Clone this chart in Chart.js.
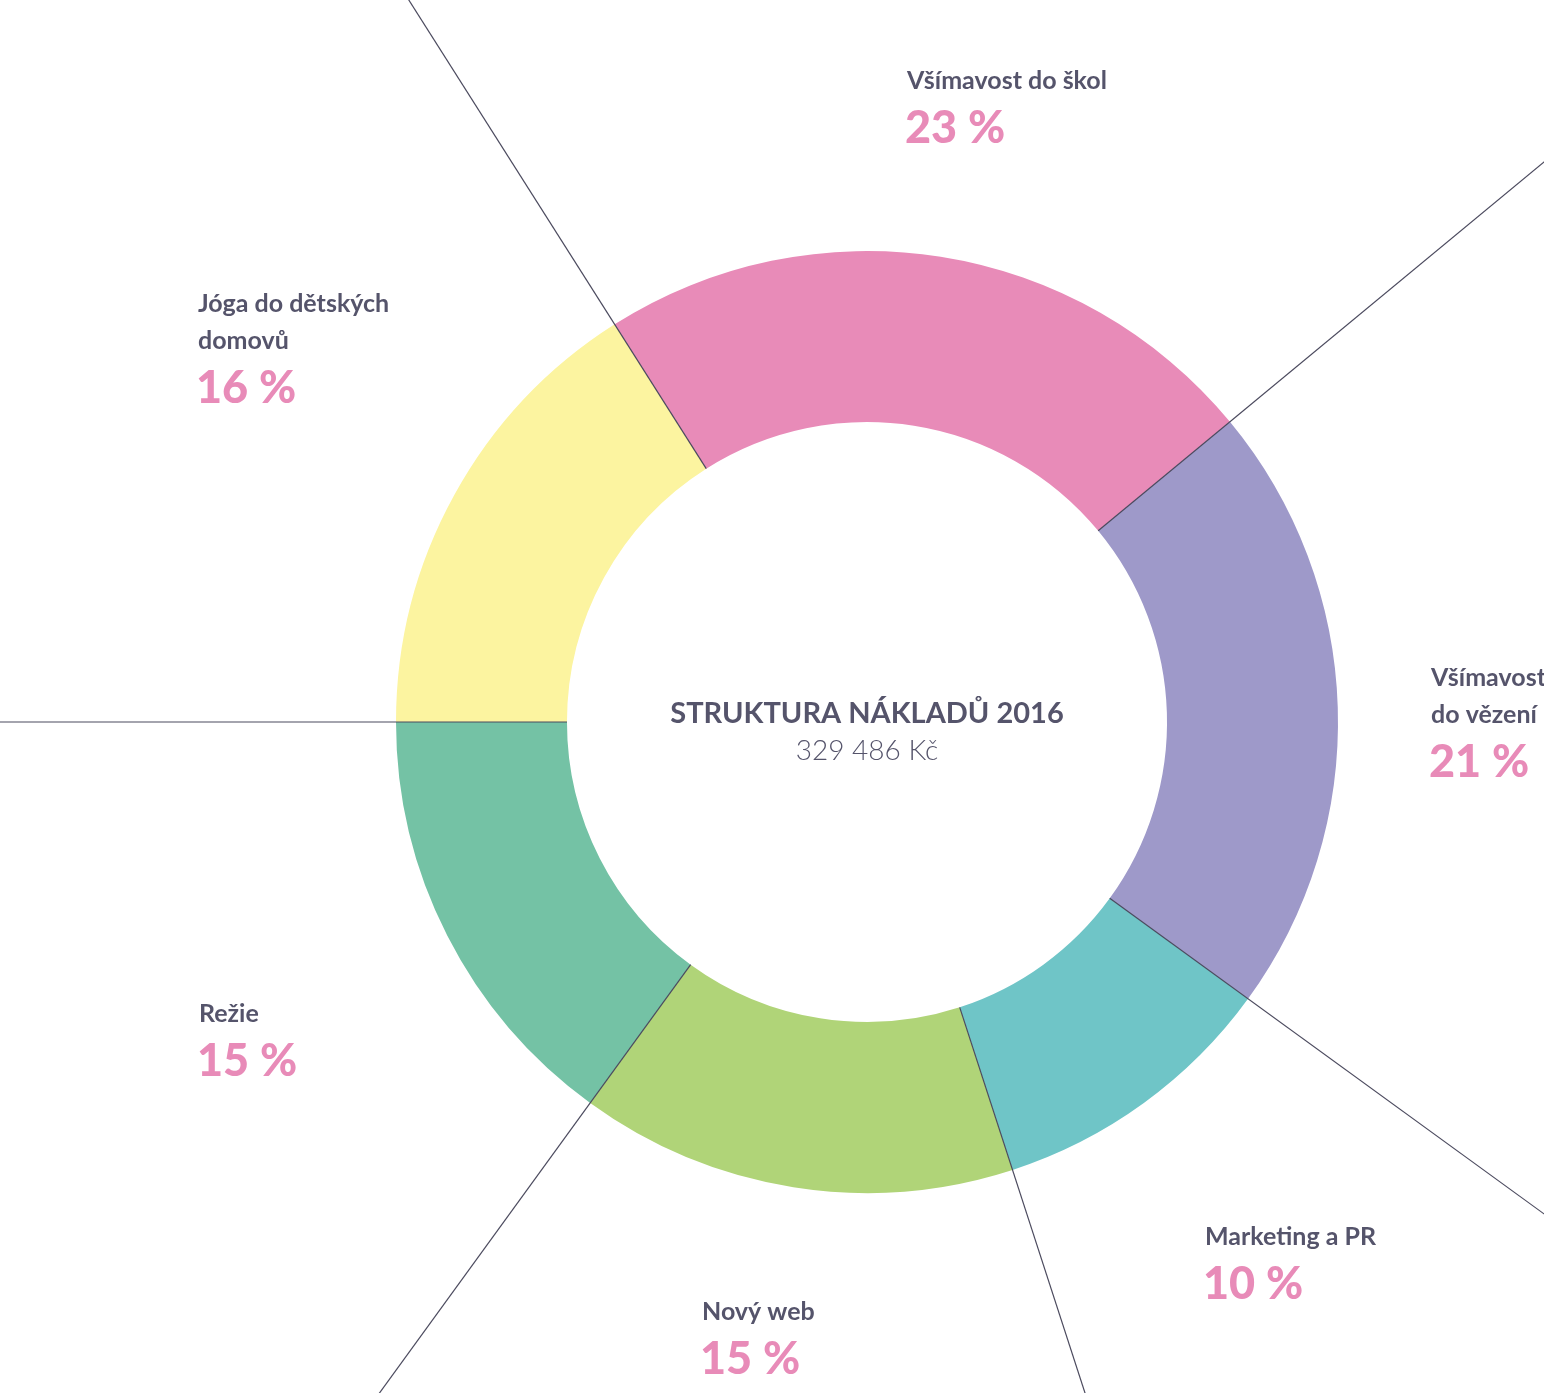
<!DOCTYPE html>
<html lang="cs">
<head>
<meta charset="utf-8">
<title>Struktura nákladů 2016</title>
<script src="https://cdn.jsdelivr.net/npm/chart.js@4.4.1/dist/chart.umd.min.js"></script>
<style>
	html, body { margin: 0; padding: 0; background: #fff; }
	#wrap { width: 1544px; height: 1393px; position: relative; }
</style>
</head>
<body>
<div id="wrap"><canvas id="chart-costs"></canvas></div>
<script>
// Data
const CATEGORIES = [
	["Všímavost do škol"],
	["Všímavost", "do vězení"],
	["Marketing a PR"],
	["Nový web"],
	["Režie"],
	["Jóga do dětských", "domovů"],
];
const SHARES = [23, 21, 10, 15, 15, 16];
const TITLE = "STRUKTURA NÁKLADŮ 2016";
const TOTAL = "329 486 Kč";

const COLORS = {
	slices: ["#e88bb8", "#9e99c9", "#6fc5c7", "#b0d478", "#74c2a5", "#fcf4a0"],
	text: "#55546b",
	pct: "#e88bb8",
	rule: "#4b4a5e",
};

// label anchors (left x, baseline of first line), same order as categories
const LABEL_SPOTS = [
	[907, 89],
	[1431, 686],
	[1205, 1245],
	[702, 1320],
	[199, 1022],
	[198, 312],
];

const FONT = "Lato, 'Open Sans', sans-serif";

//---------------------------------------------------------
// Plugins
//---------------------------------------------------------

// radial rules at every slice boundary, from the hole to the edge
const boundaryRules = {
	id: "boundaryRules",
	afterDatasetsDraw(chart) {
		const { ctx } = chart;
		const arcs = chart.getDatasetMeta(0).data;
		ctx.save();
		ctx.strokeStyle = COLORS.rule;
		ctx.lineWidth = 1.2;
		arcs.forEach((arc) => {
			const a = arc.startAngle;
			const r0 = arc.innerRadius;
			ctx.beginPath();
			ctx.moveTo(arc.x + Math.cos(a) * r0, arc.y + Math.sin(a) * r0);
			ctx.lineTo(arc.x + Math.cos(a) * 2500, arc.y + Math.sin(a) * 2500);
			ctx.stroke();
		});
		ctx.restore();
	},
};

// slice labels and the centre caption
const sliceLabels = {
	id: "sliceLabels",
	afterDraw(chart) {
		const { ctx } = chart;
		const labels = chart.data.labels;
		const values = chart.data.datasets[0].data;
		ctx.save();
		ctx.textAlign = "left";
		ctx.textBaseline = "alphabetic";
		labels.forEach((lines, i) => {
			const [x, y] = LABEL_SPOTS[i];
			ctx.fillStyle = COLORS.text;
			ctx.font = `bold 25px ${FONT}`;
			lines.forEach((line, k) => ctx.fillText(line, x, y + k * 36.5));
			ctx.fillStyle = COLORS.pct;
			ctx.font = `900 45px ${FONT}`;
			ctx.fillText(values[i] + " %", x - 2, y + (lines.length - 1) * 36.5 + 54);
		});

		const arc = chart.getDatasetMeta(0).data[0];
		ctx.textAlign = "center";
		ctx.fillStyle = COLORS.text;
		ctx.font = `bold 29px ${FONT}`;
		ctx.fillText(TITLE, arc.x, arc.y + 1);
		ctx.font = `300 28px ${FONT}`;
		ctx.fillText(TOTAL, arc.x, arc.y + 38);
		ctx.restore();
	},
};

//---------------------------------------------------------
// Chart
//---------------------------------------------------------
const CHART_CONFIG = {
	type: "doughnut",
	data: {
		labels: CATEGORIES,
		datasets: [
			{
				data: SHARES,
				backgroundColor: COLORS.slices,
				borderWidth: 0,
				hoverOffset: 0,
			},
		],
	},
	options: {
		responsive: false,
		animation: false,
		rotation: -32.4,
		cutout: "63.7%",
		layout: {
			padding: { left: 396, right: 206, top: 251, bottom: 200 },
		},
		plugins: {
			legend: { display: false },
			tooltip: { enabled: false },
		},
	},
	plugins: [boundaryRules, sliceLabels],
};

const canvas = document.getElementById("chart-costs");
canvas.width = 1544;
canvas.height = 1393;
new Chart(canvas, CHART_CONFIG);
</script>
</body>
</html>
